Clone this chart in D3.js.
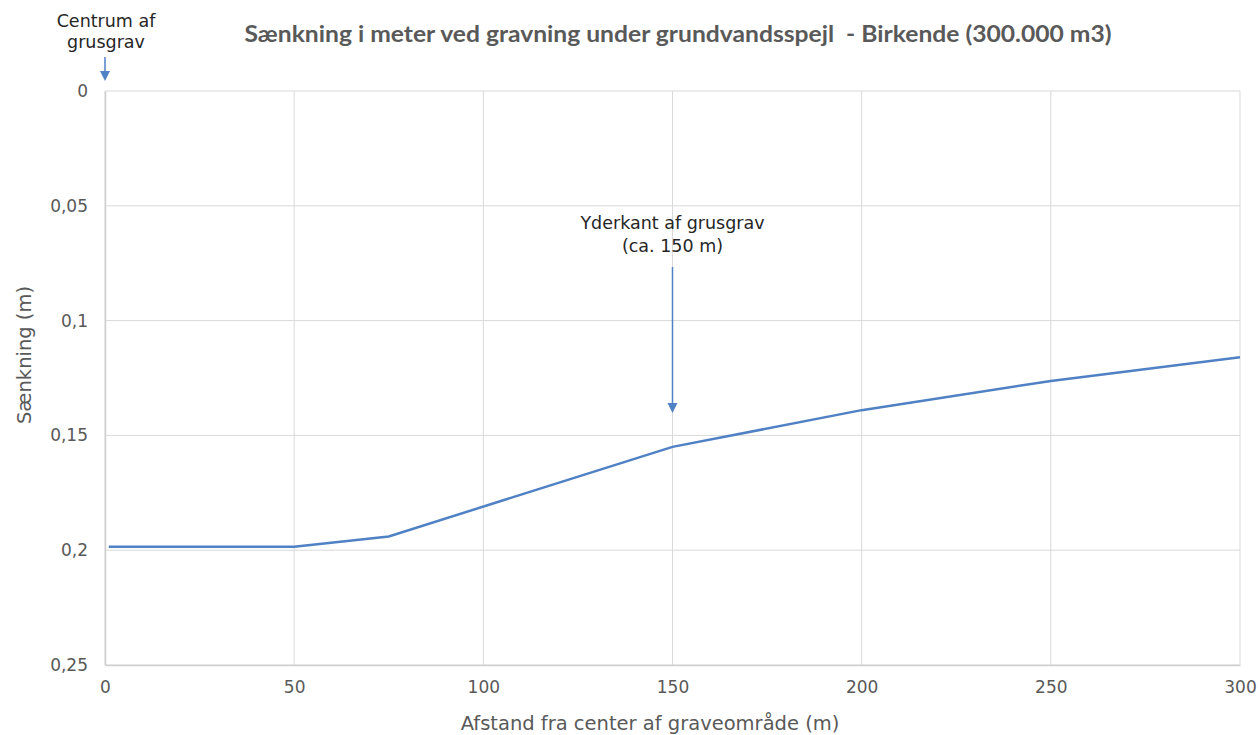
<!DOCTYPE html>
<html>
<head>
<meta charset="utf-8">
<script src="https://cdn.jsdelivr.net/npm/d3@7"></script>
<style>
  body { margin: 0; background: #fff; }
  svg { display: block; }
  .tick text { font-family: "DejaVu Sans", Verdana, sans-serif; font-size: 17px; fill: #595959; }
</style>
</head>
<body>
<svg id="chart" width="1258" height="735"></svg>
<script>
// --- data
var distance = [1, 50, 75, 150, 200, 250, 300];
var drawdown = [0.1985, 0.1985, 0.194, 0.155, 0.139, 0.1263, 0.116];
var xTicks = [0, 50, 100, 150, 200, 250, 300];
var yTicks = [0, 0.05, 0.1, 0.15, 0.2, 0.25];

var svg = d3.select("#chart");
var margin = {left: 105, right: 18, top: 91, bottom: 70};
var width = 1258 - margin.left - margin.right,
    height = 735 - margin.top - margin.bottom;

var x = d3.scaleLinear().domain([0, 300]).range([0, width]);
var y = d3.scaleLinear().domain([0, 0.25]).range([0, height]);   // reversed axis: 0 on top

var g = svg.append("g")
    .attr("transform", "translate(" + margin.left + "," + margin.top + ")");

var fmt = function(d) { return String(d).replace(".", ","); };

// gridlines
g.append("g")
    .selectAll("line.h")
    .data(yTicks).enter()
    .append("line")
      .attr("x1", 0).attr("x2", width)
      .attr("y1", function(d) { return y(d); })
      .attr("y2", function(d) { return y(d); })
      .attr("stroke", "#d9d9d9").attr("stroke-width", 1);

g.append("g")
    .selectAll("line.v")
    .data(xTicks).enter()
    .append("line")
      .attr("x1", function(d) { return x(d); })
      .attr("x2", function(d) { return x(d); })
      .attr("y1", 0).attr("y2", height)
      .attr("stroke", "#d9d9d9").attr("stroke-width", 1);

// axes
var yAxis = g.append("g")
    .call(d3.axisLeft(y).tickValues(yTicks).tickFormat(fmt).tickSize(0).tickPadding(17));
yAxis.select(".domain").attr("stroke", "#d0d0d0").attr("stroke-width", 1.5);

var xAxis = g.append("g")
    .attr("transform", "translate(0," + height + ")")
    .call(d3.axisBottom(x).tickValues(xTicks).tickSize(0).tickPadding(16));
xAxis.select(".domain").attr("stroke", "#d0d0d0").attr("stroke-width", 1.5);

// the series
var line = d3.line()
    .x(function(d, i) { return x(distance[i]); })
    .y(function(d) { return y(d); });

g.append("path")
    .datum(drawdown)
    .attr("fill", "none")
    .attr("stroke", "#4f81c4")
    .attr("stroke-width", 2.5)
    .attr("d", line);

// annotation: outer edge of the pit
g.append("line")
    .attr("x1", x(150)).attr("x2", x(150))
    .attr("y1", 176).attr("y2", 314)
    .attr("stroke", "#4f81c4").attr("stroke-width", 1.5);
g.append("path")
    .attr("d", "M" + (x(150) - 5) + ",312 L" + (x(150) + 5) + ",312 L" + x(150) + ",322 Z")
    .attr("fill", "#4f81c4");

var ann = g.append("text")
    .attr("text-anchor", "middle")
    .style("font-family", "'DejaVu Sans', Verdana, sans-serif")
    .style("font-size", "17.5px").style("fill", "#262626");
ann.append("tspan").attr("x", x(150)).attr("y", 138).text("Yderkant af grusgrav");
ann.append("tspan").attr("x", x(150)).attr("y", 161).text("(ca. 150 m)");

// annotation: centre of the pit
g.append("line")
    .attr("x1", x(0)).attr("x2", x(0))
    .attr("y1", -34).attr("y2", -18)
    .attr("stroke", "#4f81c4").attr("stroke-width", 1.5);
g.append("path")
    .attr("d", "M" + (x(0) - 5) + ",-20 L" + (x(0) + 5) + ",-20 L" + x(0) + ",-10 Z")
    .attr("fill", "#4f81c4");

var ann2 = g.append("text")
    .attr("text-anchor", "middle")
    .style("font-family", "'DejaVu Sans', Verdana, sans-serif")
    .style("font-size", "17.5px").style("fill", "#262626");
ann2.append("tspan").attr("x", x(0) + 1).attr("y", -64).text("Centrum af");
ann2.append("tspan").attr("x", x(0) + 1).attr("y", -43).text("grusgrav");

// title
svg.append("text")
    .attr("x", 678).attr("y", 42)
    .attr("text-anchor", "middle")
    .attr("textLength", 867)
    .attr("lengthAdjust", "spacingAndGlyphs")
    .style("font-family", "Lato, 'Open Sans', sans-serif")
    .style("font-weight", "bold")
    .style("font-size", "23px")
    .style("fill", "#595959")
    .text("Sænkning i meter ved gravning under grundvandsspejl \u00A0- Birkende (300.000 m3)");

// axis titles
svg.append("text")
    .attr("x", 650).attr("y", 730)
    .attr("text-anchor", "middle")
    .style("font-family", "'DejaVu Sans', Verdana, sans-serif")
    .style("font-size", "19.5px").style("fill", "#595959")
    .text("Afstand fra center af graveområde (m)");

svg.append("text")
    .attr("transform", "translate(31,355) rotate(-90)")
    .attr("text-anchor", "middle")
    .style("font-family", "'DejaVu Sans', Verdana, sans-serif")
    .style("font-size", "19.5px").style("fill", "#595959")
    .text("Sænkning (m)");
</script>
</body>
</html>
